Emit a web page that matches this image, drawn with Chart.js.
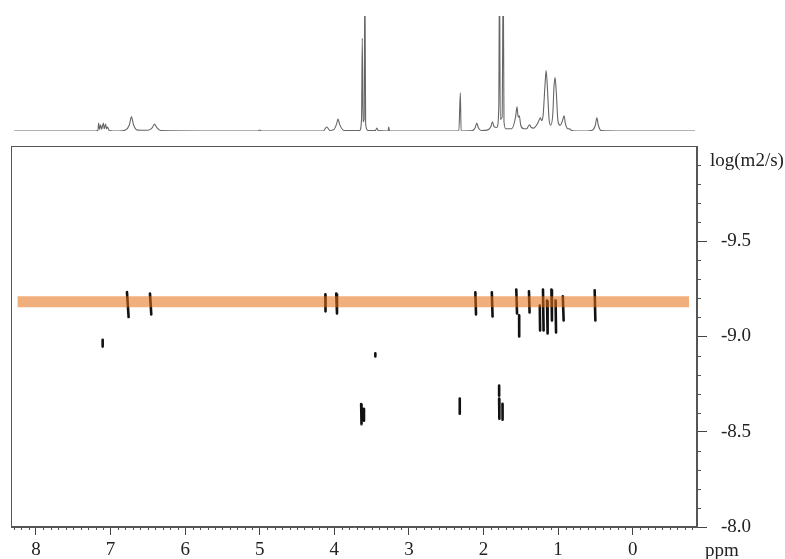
<!DOCTYPE html>
<html>
<head>
<meta charset="utf-8">
<script src="https://cdn.jsdelivr.net/npm/chart.js@4.4.1/dist/chart.umd.min.js"></script>
<style>
    body { margin: 0; background: #fff; }
    #wrap { position: relative; width: 785px; height: 559px; }
    canvas { position: absolute; left: 0; top: 0; }
</style>
</head>
<body>
<div id="wrap">
    <canvas id="espectro" width="785" height="146"></canvas>
    <canvas id="dosy" width="785" height="559"></canvas>
</div>
<script>
// eixo de deslocamento quimico (ppm), invertido
const ppmMin = -0.863
const ppmMax = 8.335
const xTicks = [8, 7, 6, 5, 4, 3, 2, 1, 0]

// eixo de difusao log(m2/s)
const logDMin = -10
const logDMax = -8
const yTicks = [-9.5, -9.0, -8.5, -8.0]

// espectro 1H tracado (ppm, intensidade relativa; >100 = cortado)
const specPpm = [8.29, 7.20, 7.17, 7.16, 7.148, 7.133, 7.12, 7.097, 7.085, 7.066, 7.055, 7.04, 7.02,
    6.90, 6.80, 6.75, 6.72, 6.69, 6.64, 6.50, 6.44, 6.41, 6.38, 6.33,
    5.02, 5.00, 4.98, 4.15, 4.10, 4.06, 4.01, 3.97, 3.95, 3.93, 3.87,
    3.66, 3.635, 3.625, 3.615, 3.60, 3.59, 3.58, 3.55, 3.45, 3.43, 3.41, 3.28, 3.27, 3.26,
    2.33, 2.31, 2.30, 2.15, 2.11, 2.09, 2.07, 2.03, 1.94, 1.90, 1.88, 1.86, 1.82,
    1.795, 1.785, 1.775, 1.75, 1.735, 1.725, 1.70, 1.62, 1.57, 1.55, 1.535, 1.52, 1.50,
    1.46, 1.42, 1.40, 1.38, 1.36, 1.33, 1.28, 1.25, 1.235, 1.22, 1.20, 1.175, 1.16, 1.145,
    1.12, 1.10, 1.07, 1.055, 1.04, 1.025, 1.00, 0.97, 0.94, 0.92, 0.90, 0.87, 0.84, 0.82,
    0.70, 0.55, 0.50, 0.48, 0.46, 0.42, 0.20, -0.837]
const specInt = [0, 0, 0.5, 7, 1.5, 5.3, 1.5, 7, 2, 6.1, 2, 3.5, 0.5,
    0, 0.8, 5, 12.3, 5, 0.8, 0.6, 3, 6.1, 3, 0.5,
    0, 0.9, 0, 0, 3.5, 0.5, 1, 6, 10.5, 6, 0.5,
    0.5, 10, 80.7, 8, 10, 140, 6, 0.5, 0.3, 2.6, 0.3, 0, 3.5, 0,
    0, 33.3, 0, 0.3, 3, 7, 3, 0.5, 1, 4, 7.9, 4, 3,
    20, 140, 10, 12, 140, 8, 2, 2, 12, 21, 12, 13.2, 5,
    2, 2, 4, 5.3, 3, 2.5, 6, 10, 11.4, 9, 14, 40, 52.6, 40,
    10, 5, 15, 38, 46.5, 35, 8, 5, 9, 13.2, 6, 2, 1.8, 0.5,
    0, 0.5, 5, 11.4, 5, 0.3, 0, 0]

// picos DOSY: posicao (ppm) no topo e na base, e extensao vertical em log(m2/s)
const dosyPpmTop = [6.78, 6.472, 4.12, 3.974, 7.106, 3.45, 2.109, 1.888, 1.56, 1.522, 1.39,
    1.245, 1.202, 1.148, 1.089, 1.033, 0.936, 0.509, 3.64, 3.603, 2.318, 1.79, 1.79, 1.745]
const dosyPpmBottom = [6.758, 6.454, 4.118, 3.964, 7.106, 3.45, 2.1, 1.878, 1.55, 1.521, 1.382,
    1.241, 1.194, 1.14, 1.082, 1.027, 0.925, 0.5, 3.635, 3.602, 2.318, 1.79, 1.787, 1.744]
const dosyTop = [-9.233, -9.226, -9.221, -9.226, -8.983, -8.912, -9.232, -9.232, -9.247, -9.111, -9.237,
    -9.163, -9.247, -9.189, -9.247, -9.189, -9.211, -9.242, -8.646, -8.621, -8.674, -8.742, -8.674, -8.647]
const dosyBottom = [-9.102, -9.116, -9.132, -9.121, -8.947, -8.895, -9.116, -9.105, -9.121, -9.0, -9.126,
    -9.032, -9.032, -9.016, -9.084, -9.021, -9.084, -9.084, -8.54, -8.558, -8.595, -8.689, -8.568, -8.563]

// faixa destacada (componente principal)
const faixaPpm = [8.247, -0.756]
const faixaLogD = -9.183

const fonte = { family: "'Liberation Serif', 'Times New Roman', serif", size: 19 }

// ---- espectro 1D no topo ----
new Chart(document.getElementById("espectro"), {
    type: "line",
    data: {
        datasets: [{
            data: specPpm.map((p, i) => ({ x: p, y: specInt[i] })),
            borderColor: "#666",
            borderWidth: 1.1,
            pointRadius: 0,
            cubicInterpolationMode: "monotone",
            fill: false
        }]
    },
    options: {
        responsive: false,
        animation: false,
        layout: { padding: { left: 11, right: 88, top: 16, bottom: 15 } },
        plugins: { legend: { display: false }, tooltip: { enabled: false } },
        scales: {
            x: { type: "linear", min: ppmMin, max: ppmMax, reverse: true, display: false },
            y: { min: 0, max: 100, display: false }
        }
    }
})

// ---- mapa DOSY ----
const picos = []
dosyPpmTop.forEach((p, i) => {
    picos.push({ x: p, y: dosyTop[i] }, { x: dosyPpmBottom[i], y: dosyBottom[i] }, { x: p, y: null })
})

const moldura = {
    id: "moldura",
    afterDraw(chart) {
        const { ctx, chartArea: a, scales: { x, y } } = chart
        ctx.save()
        ctx.strokeStyle = "#555"
        ctx.lineWidth = 1
        ctx.strokeRect(a.left + 0.5, a.top + 0.5, a.right - a.left - 1, a.bottom - a.top - 1)

        // tracinhos menores
        ctx.beginPath()
        for (let i = Math.ceil(ppmMin * 10); i <= Math.floor(ppmMax * 10); i++) {
            if (i % 10 === 0) continue
            const px = Math.round(x.getPixelForValue(i / 10)) + 0.5
            ctx.moveTo(px, a.bottom)
            ctx.lineTo(px, a.bottom + 3)
        }
        for (let i = logDMin * 10 + 1; i < logDMax * 10; i++) {
            if (i % 5 === 0) continue
            const py = Math.round(y.getPixelForValue(i / 10)) + 0.5
            ctx.moveTo(a.right, py)
            ctx.lineTo(a.right + 4, py)
        }
        ctx.stroke()

        ctx.fillStyle = "#222"
        ctx.font = `${fonte.size}px ${fonte.family}`
        ctx.textAlign = "left"
        ctx.textBaseline = "middle"
        ctx.fillText("log(m2/s)", a.right + 13, a.top + 15)
        ctx.textBaseline = "alphabetic"
        ctx.fillText("ppm", a.right + 8, a.bottom + 29)
        ctx.restore()
    }
}

new Chart(document.getElementById("dosy"), {
    type: "line",
    data: {
        datasets: [
            {
                data: faixaPpm.map(p => ({ x: p, y: faixaLogD })),
                borderColor: "rgba(230, 110, 20, 0.55)",
                borderWidth: 11,
                borderCapStyle: "butt",
                pointRadius: 0,
                order: 0
            },
            {
                data: picos,
                borderColor: "#111",
                borderWidth: 2.6,
                borderCapStyle: "round",
                pointRadius: 0,
                spanGaps: false,
                order: 1
            }
        ]
    },
    options: {
        responsive: false,
        animation: false,
        layout: { padding: { left: 11, top: 146, right: 0, bottom: 0 } },
        plugins: { legend: { display: false }, tooltip: { enabled: false } },
        scales: {
            x: {
                type: "linear",
                min: ppmMin,
                max: ppmMax,
                reverse: true,
                afterBuildTicks: s => { s.ticks = xTicks.map(v => ({ value: v })) },
                afterFit: s => { s.height = 32 },
                ticks: { color: "#222", font: fonte, padding: 4, maxRotation: 0, callback: v => String(v) },
                grid: { drawOnChartArea: false, tickLength: 8, color: "#444" },
                border: { display: true, color: "#555" }
            },
            y: {
                position: "right",
                min: logDMin,
                max: logDMax,
                reverse: true,
                afterBuildTicks: s => { s.ticks = yTicks.map(v => ({ value: v })) },
                afterFit: s => { s.width = 88 },
                ticks: { color: "#222", font: fonte, padding: 14, callback: v => v.toFixed(1) },
                grid: { drawOnChartArea: false, tickLength: 10, color: "#444" },
                border: { display: true, color: "#555" }
            }
        }
    },
    plugins: [moldura]
})
</script>
</body>
</html>
